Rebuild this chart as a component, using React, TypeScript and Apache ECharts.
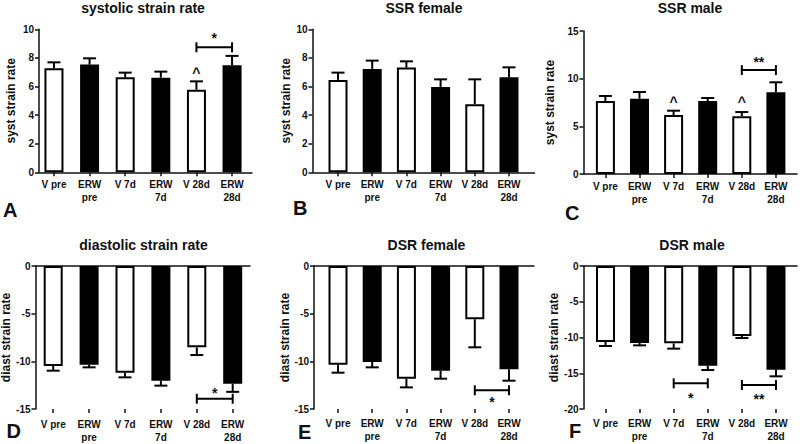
import React, { useEffect, useRef } from "react";
import * as echarts from "echarts";

const FONT = '"Liberation Sans", Arial, Helvetica, sans-serif';
const INK = "#111111";

// ---- data ----
const categories = ["V pre", "ERW\npre", "V 7d", "ERW\n7d", "V 28d", "ERW\n28d"];
const barFills = ["#ffffff", "#000000", "#ffffff", "#000000", "#ffffff", "#000000"];

const panelTitles = ["systolic strain rate", "SSR female", "SSR male", "diastolic strain rate", "DSR female", "DSR male"];
const panelLetters = ["A", "B", "C", "D", "E", "F"];
const yNames = ["syst strain rate", "syst strain rate", "syst strain rate", "diast strain rate", "diast strain rate", "diast strain rate"];
const yMins = [0, 0, 0, -15, -15, -20];
const yMaxs = [10, 10, 15, 0, 0, 0];
const ySteps = [2, 2, 5, 5, 5, 5];

// systolic strain rate (all)
const ssrAllMean = [7.27, 7.53, 6.64, 6.62, 5.78, 7.48];
const ssrAllSem = [0.42, 0.44, 0.33, 0.42, 0.58, 0.66];
// SSR female
const ssrFemaleMean = [6.46, 7.23, 7.32, 5.97, 4.76, 6.64];
const ssrFemaleSem = [0.51, 0.58, 0.44, 0.53, 1.74, 0.7];
// SSR male
const ssrMaleMean = [7.66, 7.9, 6.19, 7.66, 6.05, 8.57];
const ssrMaleSem = [0.52, 0.7, 0.45, 0.31, 0.45, 1.05];
// diastolic strain rate (all)
const dsrAllMean = [-10.49, -10.35, -11.19, -12.03, -8.53, -12.34];
const dsrAllSem = [0.49, 0.28, 0.49, 0.52, 0.81, 0.86];
// DSR female
const dsrFemaleMean = [-10.35, -10.07, -11.82, -10.98, -5.59, -10.84];
const dsrFemaleSem = [0.84, 0.56, 0.91, 0.84, 2.94, 1.19];
// DSR male
const dsrMaleMean = [-10.63, -10.77, -10.82, -13.94, -9.79, -14.5];
const dsrMaleSem = [0.56, 0.33, 0.74, 0.61, 0.28, 0.93];

// significance brackets: [from category, to category, y]
const bracketsA = [[4, 5, 8.74]];
const bracketsB: number[][] = [];
const bracketsC = [[4, 5, 10.9]];
const bracketsD = [[4, 5, -13.92]];
const bracketsE = [[4, 5, -13.04]];
const bracketsF = [[2, 3, -16.41], [4, 5, -16.64]];

// text marks: [x, y, text]
const marksA: [number, number, string][] = [[4.5, 9.6, "*"], [4, 7.15, "^"]];
const marksB: [number, number, string][] = [];
const marksC: [number, number, string][] = [[4.5, 12.1, "**"], [2, 7.85, "^"], [4, 7.87, "^"]];
const marksD: [number, number, string][] = [[4.5, -12.97, "*"]];
const marksE: [number, number, string][] = [[4.5, -13.98, "*"]];
const marksF: [number, number, string][] = [[2.5, -18.08, "*"], [4.5, -18.18, "**"]];

const means = [ssrAllMean, ssrFemaleMean, ssrMaleMean, dsrAllMean, dsrFemaleMean, dsrMaleMean];
const sems = [ssrAllSem, ssrFemaleSem, ssrMaleSem, dsrAllSem, dsrFemaleSem, dsrMaleSem];
const brackets = [bracketsA, bracketsB, bracketsC, bracketsD, bracketsE, bracketsF];
const marks = [marksA, marksB, marksC, marksD, marksE, marksF];

// ---- layout ----
const layout = [
  { left: 39, top: 29.3, width: 213, height: 143, xMin: -0.42, xMax: 5.56, nameGap: 22, labelMargin: 5.5, titleX: 143, titleY: 8, letterX: 3, letterY: 210 },
  { left: 312.5, top: 29.3, width: 222, height: 143, xMin: -0.746, xMax: 5.746, nameGap: 13.5, labelMargin: 5.5, titleX: 424, titleY: 8, letterX: 293, letterY: 208 },
  { left: 583.5, top: 31, width: 213.5, height: 143, xMin: -0.642, xMax: 5.619, nameGap: 28, labelMargin: 5.5, titleX: 690, titleY: 8, letterX: 565, letterY: 213 },
  { left: 35.5, top: 266, width: 214.5, height: 143, xMin: -0.493, xMax: 5.482, nameGap: 19.5, labelMargin: 9, titleX: 143.5, titleY: 244.5, letterX: 6.5, letterY: 431 },
  { left: 314, top: 266, width: 220, height: 143, xMin: -0.702, xMax: 5.731, nameGap: 20, labelMargin: 8, titleX: 426.5, titleY: 244.5, letterX: 298, letterY: 431.5 },
  { left: 583.5, top: 266, width: 213.5, height: 143, xMin: -0.645, xMax: 5.616, nameGap: 22.5, labelMargin: 8, titleX: 692, titleY: 244.5, letterX: 569, letterY: 431 },
];

const catIdx = [0, 1, 2, 3, 4, 5];
const line = { color: INK, width: 1.5 };

function buildOption() {
  const grid: any[] = [];
  const xAxis: any[] = [];
  const yAxis: any[] = [];
  const series: any[] = [];
  const graphic: any[] = [];

  layout.forEach((l, i) => {
    const negative = yMaxs[i] <= 0;
    grid.push({ left: l.left, top: l.top, width: l.width, height: l.height, containLabel: false, outerBoundsMode: "none" });

    const labelAxis = {
      gridIndex: i,
      type: "value",
      min: l.xMin,
      max: l.xMax,
      position: "bottom",
      axisLine: { show: !negative, onZero: false, lineStyle: line },
      axisTick: { show: true, customValues: catIdx, length: 4, lineStyle: line },
      axisLabel: {
        show: true,
        customValues: catIdx,
        formatter: (v: number) => categories[Math.round(v)],
        margin: l.labelMargin,
        fontSize: 10,
        fontWeight: "bold",
        fontFamily: FONT,
        color: INK,
        lineHeight: 13,
      },
      splitLine: { show: false },
    };
    const xIndex = xAxis.length;
    xAxis.push(labelAxis);
    if (negative) {
      xAxis.push({
        gridIndex: i,
        type: "value",
        min: l.xMin,
        max: l.xMax,
        position: "top",
        axisLine: { show: true, onZero: false, lineStyle: line },
        axisTick: { show: false },
        axisLabel: { show: false },
        splitLine: { show: false },
      });
    }

    yAxis.push({
      gridIndex: i,
      type: "value",
      min: yMins[i],
      max: yMaxs[i],
      interval: ySteps[i],
      name: yNames[i],
      nameLocation: "middle",
      nameGap: l.nameGap,
      nameTextStyle: { fontSize: 12, fontWeight: "bold", fontFamily: FONT, color: INK },
      axisLine: { show: true, onZero: false, lineStyle: line },
      axisTick: { show: true, length: 4, lineStyle: line },
      axisLabel: { fontSize: 10, fontWeight: "bold", fontFamily: FONT, color: INK, margin: 5 },
      splitLine: { show: false },
    });

    const m = means[i];
    const s = sems[i];
    series.push({
      type: "bar",
      xAxisIndex: xIndex,
      yAxisIndex: i,
      barWidth: 19,
      z: 2,
      data: m.map((v, k) => ({
        value: [k, v],
        itemStyle: { color: barFills[k], borderColor: "#000", borderWidth: 2 },
      })),
    });

    series.push({
      type: "custom",
      xAxisIndex: xIndex,
      yAxisIndex: i,
      z: 3,
      encode: { x: 0, y: [1, 2] },
      data: m.map((v, k) => [k, v, v < 0 ? v - s[k] : v + s[k]]),
      renderItem: (params: any, api: any) => {
        const x = api.value(0);
        const a = api.coord([x, api.value(1)]);
        const b = api.coord([x, api.value(2)]);
        const st = { stroke: "#000", lineWidth: 2 };
        return {
          type: "group",
          children: [
            { type: "line", shape: { x1: a[0], y1: a[1], x2: b[0], y2: b[1] }, style: st },
            { type: "line", shape: { x1: b[0] - 6.5, y1: b[1], x2: b[0] + 6.5, y2: b[1] }, style: st },
          ],
        };
      },
    });

    if (brackets[i].length) {
      series.push({
        type: "custom",
        xAxisIndex: xIndex,
        yAxisIndex: i,
        z: 4,
        encode: { x: [0, 1], y: 2 },
        data: brackets[i],
        renderItem: (params: any, api: any) => {
          const y = api.value(2);
          const a = api.coord([api.value(0), y]);
          const b = api.coord([api.value(1), y]);
          const st = { stroke: "#000", lineWidth: 2 };
          return {
            type: "group",
            children: [
              { type: "line", shape: { x1: a[0], y1: a[1], x2: b[0], y2: b[1] }, style: st },
              { type: "line", shape: { x1: a[0], y1: a[1] - 5, x2: a[0], y2: a[1] + 5 }, style: st },
              { type: "line", shape: { x1: b[0], y1: b[1] - 5, x2: b[0], y2: b[1] + 5 }, style: st },
            ],
          };
        },
      });
    }

    if (marks[i].length) {
      const mk = marks[i];
      series.push({
        type: "custom",
        xAxisIndex: xIndex,
        yAxisIndex: i,
        z: 4,
        data: mk.map((d) => [d[0], d[1]]),
        renderItem: (params: any, api: any) => {
          const p = api.coord([api.value(0), api.value(1)]);
          return {
            type: "text",
            x: p[0],
            y: p[1] + 3,
            style: {
              text: mk[params.dataIndex][2],
              align: "center",
              verticalAlign: "middle",
              textAlign: "center",
              textVerticalAlign: "middle",
              font: `bold 14px ${FONT}`,
              fill: INK,
            },
          };
        },
      });
    }

    graphic.push({
      type: "text",
      x: l.titleX,
      y: l.titleY,
      style: {
        text: panelTitles[i],
        align: "center",
        verticalAlign: "middle",
        textAlign: "center",
        textVerticalAlign: "middle",
        font: `bold 14px ${FONT}`,
        fill: INK,
      },
    });
    graphic.push({
      type: "text",
      x: l.letterX,
      y: l.letterY,
      style: {
        text: panelLetters[i],
        align: "left",
        verticalAlign: "middle",
        textAlign: "left",
        textVerticalAlign: "middle",
        font: `bold 20px ${FONT}`,
        fill: INK,
      },
    });
  });

  return {
    animation: false,
    backgroundColor: "#ffffff",
    textStyle: { fontFamily: FONT },
    grid,
    xAxis,
    yAxis,
    series,
    graphic,
  };
}

export default function App() {
  const ref = useRef<HTMLDivElement>(null);
  useEffect(() => {
    if (!ref.current) return;
    const chart = echarts.init(ref.current, null, { renderer: "svg" });
    chart.setOption(buildOption() as any);
    return () => chart.dispose();
  }, []);
  return (
    <div
      ref={ref}
      style={{ position: "absolute", left: 0, top: 0, width: 800, height: 444, background: "#fff" }}
    />
  );
}
